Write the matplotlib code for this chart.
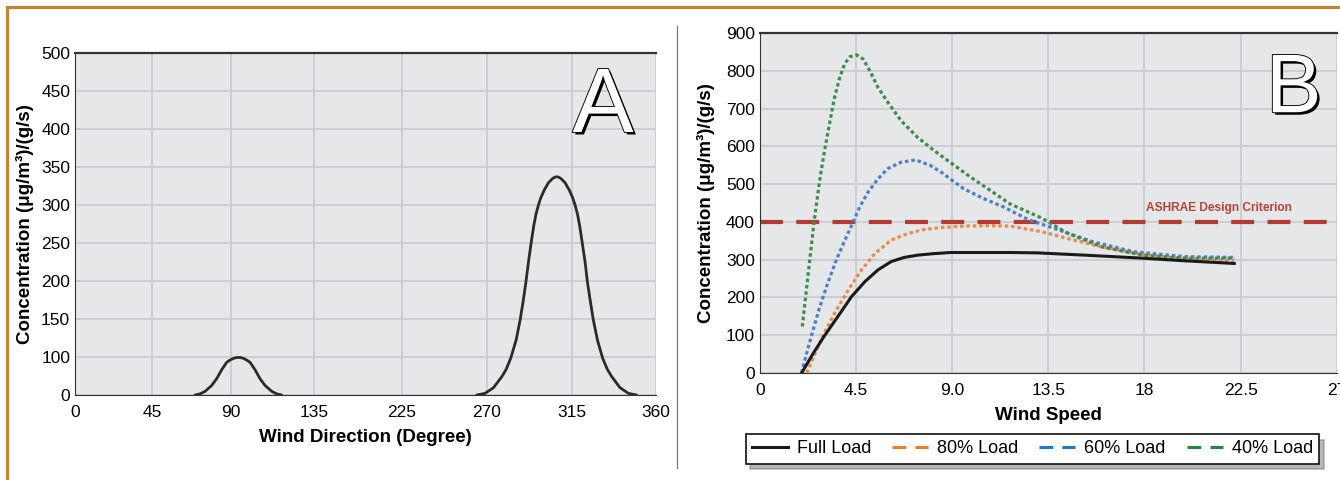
"""Dispersion concentration charts: (A) vs wind direction, (B) vs wind speed."""

import numpy as np
import matplotlib
matplotlib.use("Agg")
import matplotlib.pyplot as plt
import matplotlib.patheffects as pe
from matplotlib.lines import Line2D

plt.rcParams["font.family"] = ["Liberation Sans", "DejaVu Sans"]

# ── Panel A data ─────────────────────────────────────────────────────
dir_ticks = [0, 45, 90, 135, 225, 270, 315, 360]
conc_ticks_a = [0, 100, 150, 200, 250, 300, 350, 400, 450, 500]

peak1_deg = [69.5, 72.3, 75.2, 79.0, 81.8, 84.7, 87.5, 89.4, 91.3, 92.7,
             94.0, 95.3, 96.7, 98.5, 100.3, 103.0, 105.7, 108.4, 112.1,
             114.8, 117.5]
peak1_conc = [0, 3, 9.6, 25.4, 43, 66.7, 86, 92.1, 96.5, 98.4,
              99, 98.4, 96.5, 92.1, 86, 66.7, 43, 25.4, 9.6,
              3, 0]

peak2_deg = [264.5, 268.9, 273.4, 277.8, 280.1, 282.5, 285.4, 287.5, 289.1,
             290.6, 291.9, 293.3, 294.7, 295.9, 297.2, 298.4, 300.2, 302.5,
             304.8, 305.9, 306.9, 307.9, 309.0, 311.3, 313.6, 315.4, 316.6,
             317.9, 319.1, 320.5, 322.0, 323.2, 324.8, 326.4, 328.6, 331.4,
             333.9, 336.3, 340.7, 345.2, 349.6]
peak2_conc = [0, 4.4, 19.3, 48.2, 67.5, 96.5, 122.4, 148.7, 173.2,
              199.1, 224.6, 249.6, 272.4, 288.2, 300, 309.2, 319.3, 329.4,
              335.1, 336.7, 337.2, 336.7, 335.1, 329.4, 319.3, 309.2, 300,
              288.2, 272.4, 249.6, 224.6, 199.1, 173.2, 148.7, 122.4, 96.5,
              67.5, 48.2, 19.3, 4.4, 0]

# ── Panel B data ─────────────────────────────────────────────────────
speed_ticks = [0, 4.5, 9.0, 13.5, 18, 22.5, 27]
speed_labels = ["0", "4.5", "9.0", "13.5", "18", "22.5", "27"]
ashrae_limit = 400

full_speed = [1.96, 2.5, 3.02, 3.66, 4.29, 4.92, 5.53, 6.15, 6.76, 7.38,
              8.15, 8.92, 10.15, 11.7, 13.0, 15.2, 17.9, 19.9, 22.2]
full_conc = [0, 52, 98, 150, 202, 242, 273, 295, 306, 312,
             316, 319, 319, 319, 318, 312, 304, 297, 290]

load80_speed = [2.2, 2.5, 2.94, 3.5, 4.14, 4.76, 5.38, 6.15, 6.92, 7.69,
                8.46, 9.54, 10.77, 11.7, 13.2, 14.4, 16.0, 17.9, 19.9, 22.2]
load80_conc = [0, 40, 97, 158, 220, 273, 316, 352, 369, 380,
               385, 389, 390, 389, 374, 356, 334, 314, 301, 297]

load60_speed = [1.95, 2.3, 2.78, 3.18, 3.58, 3.97, 4.37, 4.68, 5.07, 5.53,
                5.99, 6.61, 7.3, 8.0, 8.61, 9.0, 9.54, 10.46, 11.39, 12.6,
                13.98, 15.55, 17.5, 19.9, 22.2]
load60_conc = [0, 75, 170, 238, 299, 350, 400, 440, 479, 514,
               541, 558, 564, 549, 527, 510, 488, 462, 440, 405,
               379, 348, 321, 308, 306]

load40_speed = [1.99, 2.23, 2.38, 2.54, 2.67, 2.83, 3.02, 3.26, 3.5, 3.74,
                3.97, 4.21, 4.53, 4.84, 5.15, 5.53, 6.0, 6.61, 7.38, 8.15,
                9.0, 9.85, 10.77, 11.7, 13.2, 14.4, 16.0, 17.9, 19.9, 22.2]
load40_conc = [123, 245, 320, 400, 455, 520, 585, 659, 730, 782,
               818, 837, 842, 831, 800, 756, 716, 668, 624, 589,
               554, 519, 484, 448, 410, 370, 334, 312, 304, 304]

# grid positions of the (unevenly labelled) panel A ticks
dir_tick_pos = [0, 77, 156, 239, 327, 412, 497, 581]
conc_tick_pos = list(range(10))

FACE = "#e6e7e9"
GRID = "#c6c7ca"
TICK_FS = 12.5
LABEL_FS = 13.5


def piecewise_scale(values, positions):
    vals = np.asarray(values, float)
    pos = np.asarray(positions, float)
    fwd = lambda v: np.interp(v, vals, pos)
    inv = lambda p: np.interp(p, pos, vals)
    return fwd, inv


def style_axes(ax, xlabel, ylabel):
    ax.set_facecolor(FACE)
    ax.grid(True, color=GRID, lw=1.1)
    ax.set_axisbelow(True)
    ax.tick_params(axis="x", length=0, labelsize=TICK_FS, pad=7)
    ax.tick_params(axis="y", length=0, labelsize=TICK_FS, pad=3.5)
    ax.set_xlabel(xlabel, fontsize=LABEL_FS, fontweight="bold", labelpad=7)
    ax.set_ylabel(ylabel, fontsize=LABEL_FS, fontweight="bold", labelpad=5)
    for side in ["top", "left", "bottom"]:
        ax.spines[side].set_color("#333333")
    ax.spines["top"].set_linewidth(1.6)
    ax.spines["right"].set_visible(False)


fig = plt.figure(figsize=(13.4, 4.8), dpi=100)

# ── A ────────────────────────────────────────────────────────────────
ax1 = fig.add_axes([0.056, 0.177, 0.4336, 0.7125])
ax1.set_xscale("function", functions=piecewise_scale(dir_ticks, dir_tick_pos))
ax1.set_yscale("function", functions=piecewise_scale(conc_ticks_a, conc_tick_pos))
ax1.plot(peak1_deg, peak1_conc, color="#2b2b2b", lw=2.0, solid_capstyle="round")
ax1.plot(peak2_deg, peak2_conc, color="#2b2b2b", lw=2.0, solid_capstyle="round")
ax1.set_xlim(0, 360)
ax1.set_ylim(0, 500)
ax1.set_xticks(dir_ticks)
ax1.set_xticklabels([str(t) for t in dir_ticks])
ax1.set_yticks(conc_ticks_a)
ax1.set_yticklabels([str(t) for t in conc_ticks_a])
ax1.minorticks_off()
style_axes(ax1, "Wind Direction (Degree)", "Concentration (μg/m³)/(g/s)")

# ── B ────────────────────────────────────────────────────────────────
ax2 = fig.add_axes([0.567, 0.2229, 0.4306, 0.7083])
dots = (0, (1.1, 0.9))
ax2.axhline(ashrae_limit, color="#b23a30", lw=3.0, ls=(0, (5.5, 3.2)), zorder=2)
ax2.plot(load80_speed, load80_conc, color="#ea8a4c", lw=2.3, ls=dots, zorder=3)
ax2.plot(load60_speed, load60_conc, color="#4d80c6", lw=2.3, ls=dots, zorder=3)
ax2.plot(load40_speed, load40_conc, color="#3f8c4f", lw=2.3, ls=dots, zorder=3)
ax2.plot(full_speed, full_conc, color="#1a1a1a", lw=2.2, zorder=4)
ax2.text(21.5, 437, "ASHRAE Design Criterion", color="#b5443a", fontsize=8.6,
         fontweight="bold", ha="center", va="center")
ax2.set_xlim(0, 27)
ax2.set_ylim(0, 900)
ax2.set_xticks(speed_ticks)
ax2.set_xticklabels(speed_labels)
ax2.set_yticks(np.arange(0, 901, 100))
style_axes(ax2, "Wind Speed", "Concentration (μg/m³)/(g/s)")
ax2.yaxis.labelpad = 8

# legend under panel B
dash = (0, (4.5, 3))
handles = [
    Line2D([], [], color="#1a1a1a", lw=2.2),
    Line2D([], [], color="#f07d24", lw=2.2, ls=dash),
    Line2D([], [], color="#1f78c8", lw=2.2, ls=dash),
    Line2D([], [], color="#1f8a3e", lw=2.2, ls=dash),
]
leg = fig.legend(handles, ["Full Load", "80% Load", "60% Load", "40% Load"],
                 loc="center", bbox_to_anchor=(0.7705, 0.0646), ncol=4,
                 fontsize=13, frameon=True, fancybox=False,
                 shadow={"color": "0.45", "alpha": 0.5, "ox": 3, "oy": -4},
                 handlelength=2.0, handletextpad=0.5, columnspacing=1.15,
                 borderpad=0.35)
leg.get_frame().set_edgecolor("#111111")
leg.get_frame().set_linewidth(1.2)

# panel letters
letter_fx = [pe.SimplePatchShadow(offset=(1.8, -1.8), shadow_rgbFace="black", alpha=1.0),
             pe.withStroke(linewidth=1.3, foreground="black")]
fig.text(0.450, 0.775, "A", fontsize=66, color="white", ha="center", va="center",
         path_effects=letter_fx)
b_txt = fig.text(0.9655, 0.812, "B", fontsize=60, color="white", ha="center", va="center",
                 path_effects=letter_fx)
b_txt.set_fontstretch("condensed")

# page decorations: brown frame and divider
brown = "#c8822f"
fig.add_artist(Line2D([0.005, 1.0], [0.985, 0.985], color=brown, lw=2.2))
fig.add_artist(Line2D([0.005, 0.005], [0.0, 0.985], color=brown, lw=2.2))
fig.add_artist(Line2D([0.5055, 0.5055], [0.025, 0.945], color="#777777", lw=0.9))

fig.savefig("out.png", dpi=100, facecolor="white")
